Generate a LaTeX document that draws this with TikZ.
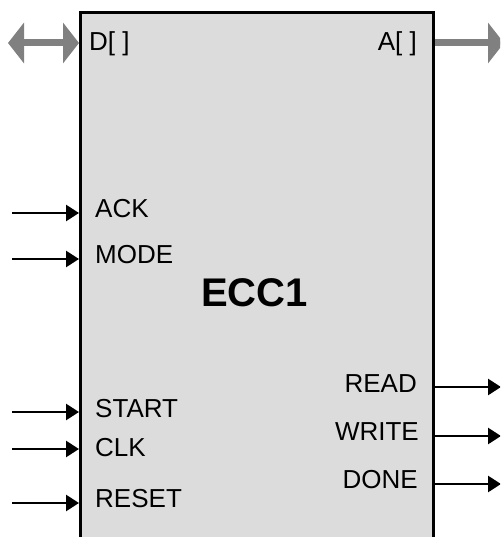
\documentclass[tikz,border=0pt]{standalone}
\usepackage{fontspec}
\setmainfont{Liberation Sans}
\usetikzlibrary{arrows.meta}
\definecolor{boxfill}{HTML}{DCDCDC}
\definecolor{busgrey}{HTML}{808080}
\tikzset{
  blockbox/.style={draw=black, line width=2.6pt, fill=boxfill, minimum width=353pt, minimum height=560pt, anchor=north west, inner sep=0pt},
  sig/.style={font=\fontsize{26}{30}\selectfont, inner sep=0pt},
  title/.style={font=\fontsize{40}{46}\selectfont\bfseries, inner sep=0pt},
  wire/.style={draw=black, line width=2.6pt, -{Triangle[length=13pt,width=16pt]}},
  bus/.style={draw=busgrey, line width=7pt}
}
\begin{document}
\begin{tikzpicture}[x=1pt,y=-1pt]
\useasboundingbox (0,0) rectangle (500,537);
\begin{scope}
\clip (0,0) rectangle (500,537);
\node[blockbox] (box) at (79,11) {};
% labels
\node[sig, anchor=base west] (D) at (89,51) {D[ ]};
\node[sig, anchor=base east] (A) at (417,51) {A[ ]};
\node[sig, anchor=base west] (ack) at (95,218) {ACK};
\node[sig, anchor=base west] (mode) at (95,263) {MODE};
\node[sig, anchor=base west] (start) at (95,417) {START};
\node[sig, anchor=base west] (clk) at (95,456) {CLK};
\node[sig, anchor=base west] (reset) at (95,507) {RESET};
\node[sig, anchor=base east] (read) at (417,392) {READ};
\node[sig, anchor=base east] (write) at (419,440) {WRITE};
\node[sig, anchor=base east] (done) at (418,488) {DONE};
\node[title, anchor=base] (ecc) at (254.5,306) {ECC1};
% free ends
\coordinate (dout) at (8,43);
\coordinate (aout) at (504,43);
\coordinate (ackin) at (12,213);
\coordinate (modein) at (12,259);
\coordinate (startin) at (12,412);
\coordinate (clkin) at (12,449);
\coordinate (resetin) at (12,503);
\coordinate (readout) at (501,387);
\coordinate (writeout) at (501,436);
\coordinate (doneout) at (501,484);
% buses
\draw[bus, {Triangle[length=16pt,width=40pt]}-{Triangle[length=16pt,width=40pt]}] (dout) -- (dout -| box.west);
\draw[bus, -{Triangle[length=16pt,width=40pt]}] (aout -| box.east) -- (aout);
% inputs
\draw[wire] (ackin) -- (ackin -| box.west);
\draw[wire] (modein) -- (modein -| box.west);
\draw[wire] (startin) -- (startin -| box.west);
\draw[wire] (clkin) -- (clkin -| box.west);
\draw[wire] (resetin) -- (resetin -| box.west);
% outputs
\draw[wire] (readout -| box.east) -- (readout);
\draw[wire] (writeout -| box.east) -- (writeout);
\draw[wire] (doneout -| box.east) -- (doneout);
\end{scope}
\end{tikzpicture}
\end{document}
